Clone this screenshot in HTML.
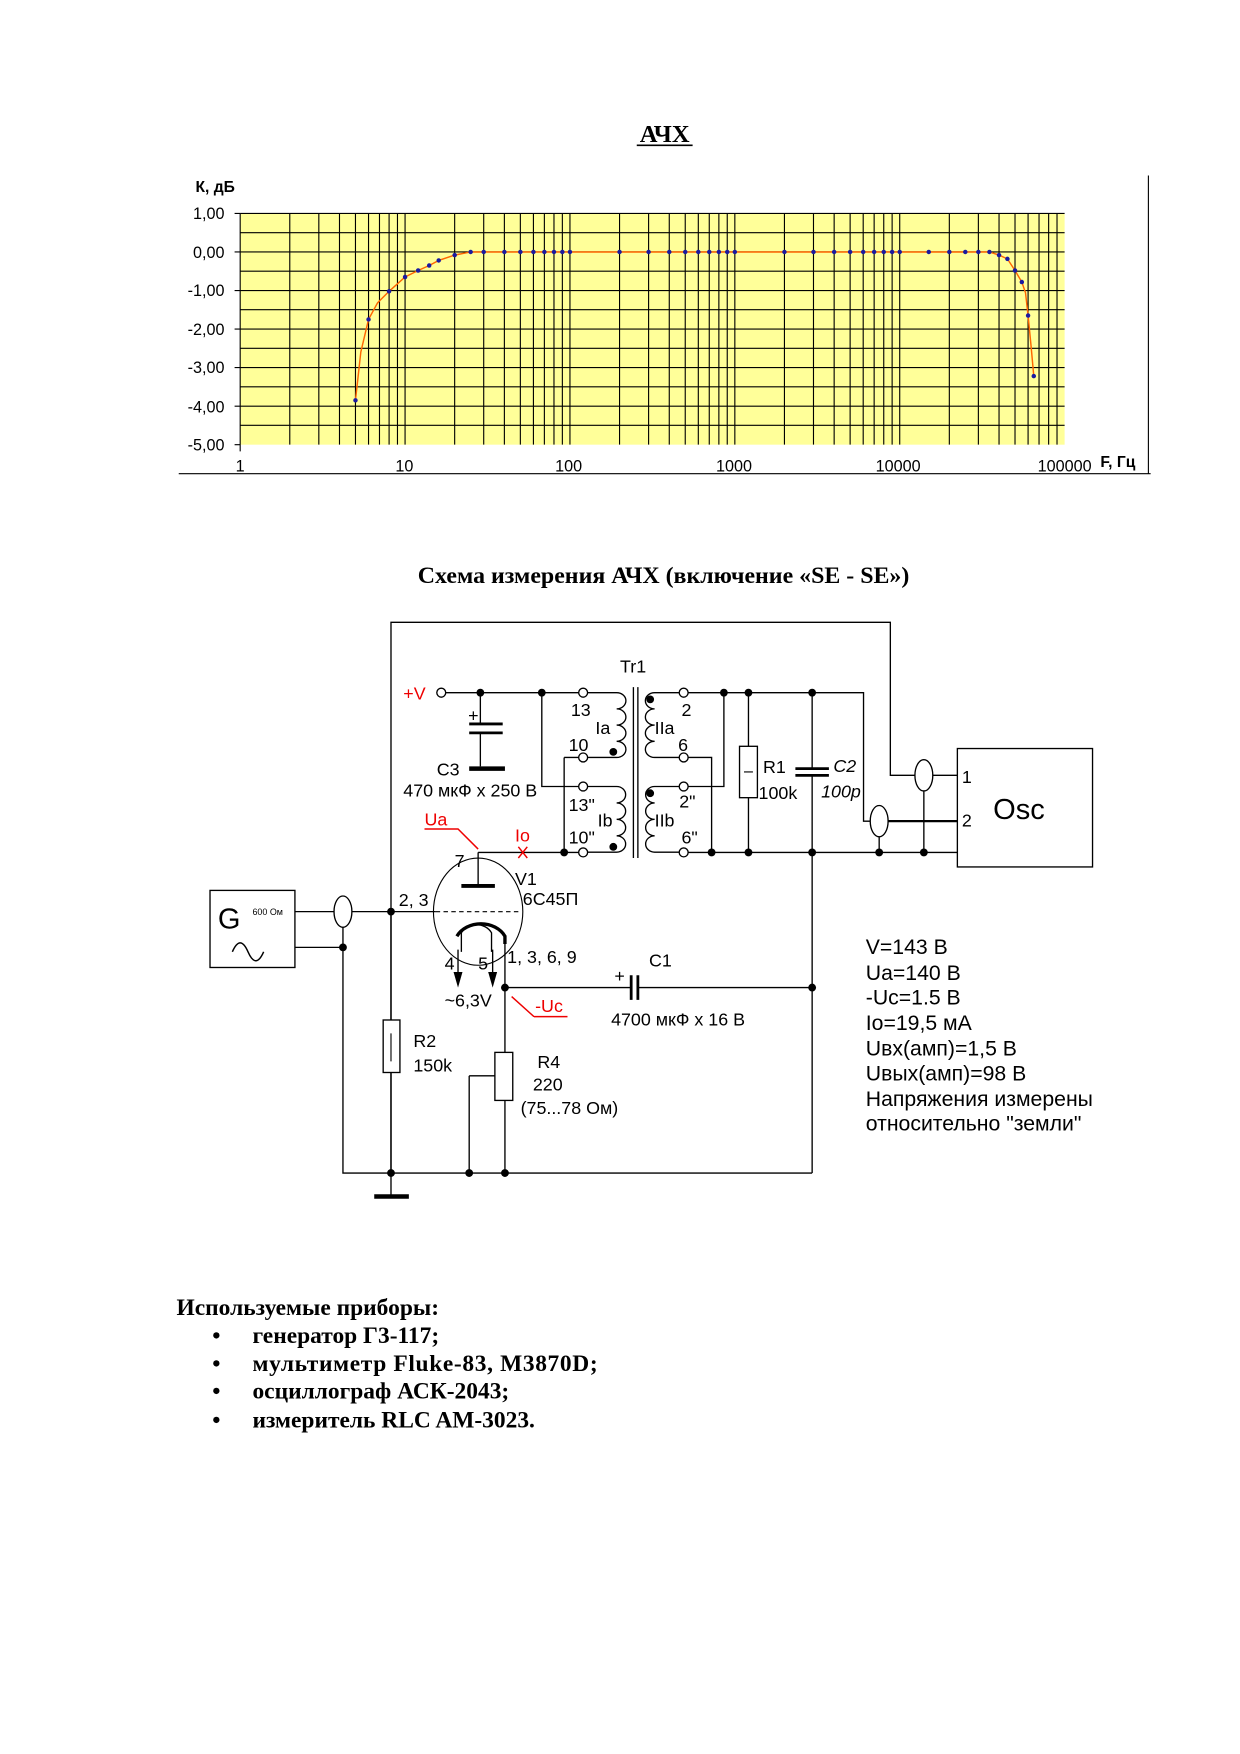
<!DOCTYPE html>
<html><head><meta charset="utf-8"><style>
html,body{margin:0;padding:0;background:#fff}
svg{display:block}
.s{font-family:"Liberation Sans",sans-serif}
.r{font-family:"Liberation Serif",serif}
</style></head><body>
<svg width="1240" height="1754" viewBox="0 0 1110 1570" xmlns="http://www.w3.org/2000/svg" xml:space="preserve">
<rect width="1110" height="1570" fill="#fff"/>
<!-- chart -->
<text x="595" y="127" class="r" font-size="22" font-weight="bold" text-anchor="middle">АЧХ</text>
<line x1="570" y1="130" x2="620" y2="130" stroke="#000" stroke-width="1.5"/>
<text x="175" y="172" class="s" font-size="14" font-weight="bold">К, дБ</text>
<rect x="215" y="191" width="738" height="207" fill="#ffff99"/>
<g stroke="#000" stroke-width="1">
<path d="M215 191H953M215 208.2H953M215 225.5H953M215 242.7H953M215 260H953M215 277.2H953M215 294.5H953M215 311.7H953M215 329H953M215 346.2H953M215 363.5H953M215 380.7H953"/>
<path d="M259.4 191V398M285.4 191V398M303.9 191V398M318.2 191V398M329.9 191V398M339.7 191V398M348.3 191V398M355.8 191V398M362.6 191V398M407 191V398M433 191V398M451.5 191V398M465.8 191V398M477.5 191V398M487.3 191V398M495.9 191V398M503.4 191V398M510.2 191V398M554.6 191V398M580.6 191V398M599.1 191V398M613.4 191V398M625.1 191V398M634.9 191V398M643.5 191V398M651 191V398M657.8 191V398M702.2 191V398M728.2 191V398M746.7 191V398M761 191V398M772.7 191V398M782.5 191V398M791.1 191V398M798.6 191V398M805.4 191V398M849.8 191V398M875.8 191V398M894.3 191V398M908.6 191V398M920.3 191V398M930.1 191V398M938.7 191V398M946.2 191V398"/>
<path d="M215 191V404M210 191H215M210 225.5H215M210 260H215M210 294.5H215M210 329H215M210 363.5H215M210 398H215"/>
<path d="M160 424H1030M1028 157V424"/>
</g>
<g class="s" font-size="14.5" text-anchor="end">
<text x="201" y="196">1,00</text><text x="201" y="231">0,00</text><text x="201" y="265">-1,00</text><text x="201" y="300">-2,00</text><text x="201" y="334">-3,00</text><text x="201" y="369">-4,00</text><text x="201" y="403">-5,00</text>
</g>
<g class="s" font-size="14.5" text-anchor="middle">
<text x="215" y="422">1</text><text x="362" y="422">10</text><text x="509" y="422">100</text><text x="657" y="422">1000</text><text x="804" y="422">10000</text><text x="953" y="422">100000</text>
</g>
<text x="985" y="418" class="s" font-size="14" font-weight="bold">F, Гц</text>
<polyline fill="none" stroke="#ff6600" stroke-width="1.3" points="318.2,358.3 323,315 329.9,285.9 338,271 348.3,260.7 362.6,247.9 374.3,242.1 384.2,237.6 392.7,233.1 407,228.3 421.3,225.5 885.7,225.5 894.3,228.3 901.8,231.7 908.6,242.1 914.7,252.4 918,262 920.3,282.4 923,310 925.4,336.6"/>
<g fill="#1a1aa0">
<circle cx="318.2" cy="358.3" r="2"/><circle cx="329.9" cy="285.9" r="2"/><circle cx="348.3" cy="260.7" r="2"/><circle cx="362.6" cy="247.9" r="2"/><circle cx="374.3" cy="242.1" r="2"/><circle cx="384.2" cy="237.6" r="2"/><circle cx="392.7" cy="233.1" r="2"/><circle cx="407" cy="228.3" r="2"/>
<circle cx="421.3" cy="225.5" r="2"/><circle cx="433" cy="225.5" r="2"/><circle cx="451.5" cy="225.5" r="2"/><circle cx="465.8" cy="225.5" r="2"/><circle cx="477.5" cy="225.5" r="2"/><circle cx="487.3" cy="225.5" r="2"/><circle cx="495.9" cy="225.5" r="2"/><circle cx="503.4" cy="225.5" r="2"/><circle cx="510.2" cy="225.5" r="2"/>
<circle cx="554.6" cy="225.5" r="2"/><circle cx="580.6" cy="225.5" r="2"/><circle cx="599.1" cy="225.5" r="2"/><circle cx="613.4" cy="225.5" r="2"/><circle cx="625.1" cy="225.5" r="2"/><circle cx="634.9" cy="225.5" r="2"/><circle cx="643.5" cy="225.5" r="2"/><circle cx="651" cy="225.5" r="2"/><circle cx="657.8" cy="225.5" r="2"/>
<circle cx="702.2" cy="225.5" r="2"/><circle cx="728.2" cy="225.5" r="2"/><circle cx="746.7" cy="225.5" r="2"/><circle cx="761" cy="225.5" r="2"/><circle cx="772.7" cy="225.5" r="2"/><circle cx="782.5" cy="225.5" r="2"/><circle cx="791.1" cy="225.5" r="2"/><circle cx="798.6" cy="225.5" r="2"/><circle cx="805.4" cy="225.5" r="2"/>
<circle cx="831.4" cy="225.5" r="2"/><circle cx="849.8" cy="225.5" r="2"/><circle cx="864.1" cy="225.5" r="2"/><circle cx="875.8" cy="225.5" r="2"/><circle cx="885.7" cy="225.5" r="2"/>
<circle cx="894.3" cy="228.3" r="2"/><circle cx="901.8" cy="231.7" r="2"/><circle cx="908.6" cy="242.1" r="2"/><circle cx="914.7" cy="252.4" r="2"/><circle cx="920.3" cy="282.4" r="2"/><circle cx="925.4" cy="336.6" r="2"/>
</g>

<!-- schematic -->
<text x="594" y="522" class="r" font-size="21" font-weight="bold" text-anchor="middle" textLength="440" lengthAdjust="spacingAndGlyphs">Схема измерения АЧХ (включение «SE - SE»)</text>
<g fill="none" stroke="#000" stroke-width="1.2">
<path d="M350 1050V557H797V694H857"/>
<path d="M399 620H522M430 620V648M430 656V686M485 620V704H522"/>
<path d="M505 678H522M505 678V763M428 763H522M428 763V793"/>
<path d="M612 620H773V735H857M612 678H637V763M612 704H648V620M670 620V668M670 714V763M727 620V688M727 694V1050"/>
<path d="M612 763H857"/>
<path d="M787 745V763M827 708V763"/>
<path d="M264 816H390M264 848H307M307 830V1050H727"/>
<path d="M452 845V942M452 985V1050M452 884H565M571 884H727"/>
<path d="M420 963H443M420 963V1050"/>
<path d="M350 1050V1071M350 816V913M350 960V1050"/>
<path d="M410 850V872M441 850V872"/>
</g>
<g stroke="#000" stroke-width="2.5" fill="none">
<path d="M420 688H452" stroke-width="4"/>
<path d="M335 1071H366" stroke-width="4"/>
<path d="M420 648H450M420 656H450"/>
<path d="M712 688H742M712 694H742"/>
<path d="M565 873V895M571 873V895"/>
<path d="M413 793H443" stroke-width="3.5"/>
<path d="M787 735H857" stroke-width="2"/>
<path d="M409 838A24 20 0 0 1 452 838V845" stroke-width="3"/>
</g>
<path d="M413 852V835A15 13 0 0 1 440 835V852" fill="none" stroke="#000" stroke-width="1.2"/>
<path d="M406 870H414L410 884Z M437 870H445L441 884Z" fill="#000"/>
<ellipse cx="428" cy="816" rx="40" ry="48" fill="none" stroke="#000" stroke-width="1"/>
<line x1="390" y1="816" x2="466" y2="816" stroke="#000" stroke-dasharray="4,3"/>
<!-- transformer -->
<g fill="none" stroke="#000" stroke-width="1.2">
<path d="M567 615V768M571 615V768"/>
<path d="M522 620H552M552 620a8 7 0 0 1 0 14.5a8 7 0 0 1 0 14.5a8 7 0 0 1 0 14.5a8 7 0 0 1 0 14.5H522"/>
<path d="M522 704H552M552 704a8 7.3 0 0 1 0 14.7a8 7.3 0 0 1 0 14.7a8 7.3 0 0 1 0 14.7a8 7.3 0 0 1 0 14.7H522"/>
<path d="M612 620H586M586 620a8 7 0 0 0 0 14.5a8 7 0 0 0 0 14.5a8 7 0 0 0 0 14.5a8 7 0 0 0 0 14.5H612"/>
<path d="M612 704H586M586 704a8 7.3 0 0 0 0 14.7a8 7.3 0 0 0 0 14.7a8 7.3 0 0 0 0 14.7a8 7.3 0 0 0 0 14.7H612"/>
</g>
<g fill="#fff" stroke="#000" stroke-width="1.2">
<circle cx="395" cy="620" r="4"/>
<circle cx="522" cy="620" r="4"/><circle cx="522" cy="678" r="4"/><circle cx="522" cy="704" r="4"/><circle cx="522" cy="763" r="4"/>
<circle cx="612" cy="620" r="4"/><circle cx="612" cy="678" r="4"/><circle cx="612" cy="704" r="4"/><circle cx="612" cy="763" r="4"/>
<rect x="662" y="668" width="16" height="46"/>
<rect x="343" y="913" width="15" height="47"/>
<rect x="443" y="942" width="16" height="43"/>
<ellipse cx="827" cy="694" rx="8" ry="14"/>
<ellipse cx="787" cy="735" rx="8" ry="14"/>
<ellipse cx="307" cy="816" rx="8" ry="14"/>
<rect x="857" y="670" width="121" height="106"/>
<rect x="188" y="797" width="76" height="69"/>
</g>
<path d="M666 691H674M350 925V950" stroke="#000" stroke-width="1"/>
<g fill="#000">
<circle cx="430" cy="620" r="3.5"/><circle cx="485" cy="620" r="3.5"/><circle cx="505" cy="763" r="3.5"/>
<circle cx="549" cy="673" r="3.5"/><circle cx="549" cy="758" r="3.5"/><circle cx="582" cy="626" r="3.5"/><circle cx="582" cy="710" r="3.5"/>
<circle cx="648" cy="620" r="3.5"/><circle cx="670" cy="620" r="3.5"/><circle cx="727" cy="620" r="3.5"/>
<circle cx="637" cy="763" r="3.5"/><circle cx="670" cy="763" r="3.5"/><circle cx="727" cy="763" r="3.5"/><circle cx="787" cy="763" r="3.5"/><circle cx="827" cy="763" r="3.5"/>
<circle cx="350" cy="816" r="3.5"/><circle cx="307" cy="848" r="3.5"/><circle cx="452" cy="884" r="3.5"/><circle cx="727" cy="884" r="3.5"/>
<circle cx="350" cy="1050" r="3.5"/><circle cx="420" cy="1050" r="3.5"/><circle cx="452" cy="1050" r="3.5"/>
</g>
<!-- red markers -->
<g stroke="#e00" stroke-width="1.3" fill="none">
<path d="M380 742H410L428 760"/>
<path d="M478 910H508M458 892L478 910"/>
<path d="M464 758L472 768M472 758L464 768"/>
</g>
<path d="M208 852q7 -16 14 0t14 0" fill="none" stroke="#000" stroke-width="1.3"/>
<g class="s" font-size="16">
<text x="361" y="626" fill="#e00">+V</text>
<text x="555" y="602">Tr1</text>
<text x="419" y="646" font-size="16">+</text>
<text x="391" y="694">C3</text>
<text x="361" y="713">470 мкФ x 250 В</text>
<text x="511" y="641">13</text><text x="533" y="657">Ia</text><text x="509" y="672">10</text>
<text x="509" y="726">13"</text><text x="535" y="740">Ib</text><text x="509" y="755">10"</text>
<text x="610" y="641">2</text><text x="586" y="657">IIa</text><text x="607" y="672">6</text>
<text x="608" y="723">2"</text><text x="586" y="740">IIb</text><text x="610" y="755">6"</text>
<text x="683" y="692">R1</text><text x="679" y="715">100k</text>
<text x="746" y="691" font-style="italic">C2</text><text x="735" y="714" font-style="italic">100p</text>
<text x="861" y="701">1</text><text x="861" y="740">2</text>
<text x="889" y="733" font-size="26">Osc</text>
<text x="380" y="739" fill="#e00">Ua</text>
<text x="461" y="753" fill="#e00">Io</text>
<text x="407" y="776">7</text>
<text x="461" y="792">V1</text><text x="468" y="810">6С45П</text>
<text x="357" y="811">2, 3</text>
<text x="454" y="862">1, 3, 6, 9</text>
<text x="398" y="868">4</text><text x="428" y="868">5</text>
<text x="398" y="901">~6,3V</text>
<text x="479" y="906" fill="#e00">-Uc</text>
<text x="550" y="879">+</text>
<text x="581" y="865">C1</text>
<text x="547" y="918">4700 мкФ x 16 В</text>
<text x="370" y="937">R2</text><text x="370" y="959">150k</text>
<text x="481" y="956">R4</text><text x="477" y="976">220</text><text x="466" y="997">(75...78 Ом)</text>
<text x="195" y="831" font-size="26">G</text>
<text x="226" y="819" font-size="8">600 Ом</text>
</g>
<g class="s" font-size="19">
<text x="775" y="854">V=143 В</text>
<text x="775" y="877">Ua=140 В</text>
<text x="775" y="899">-Uc=1.5 В</text>
<text x="775" y="922">Io=19,5 мА</text>
<text x="775" y="945">Uвх(амп)=1,5 В</text>
<text x="775" y="967">Uвых(амп)=98 В</text>
<text x="775" y="990">Напряжения измерены</text>
<text x="775" y="1012">относительно "земли"</text>
</g>
<g class="r" font-size="21" font-weight="bold">
<text x="158" y="1177" textLength="235" lengthAdjust="spacingAndGlyphs">Используемые приборы:</text>
<text x="190" y="1202">•</text><text x="226" y="1202">генератор  Г3-117;</text>
<text x="190" y="1227">•</text><text x="226" y="1227" textLength="309" lengthAdjust="spacing">мультиметр  Fluke-83,  M3870D;</text>
<text x="190" y="1252">•</text><text x="226" y="1252">осциллограф  АСК-2043;</text>
<text x="190" y="1278">•</text><text x="226" y="1278">измеритель RLC  AM-3023.</text>
</g>
</svg>
</body></html>
